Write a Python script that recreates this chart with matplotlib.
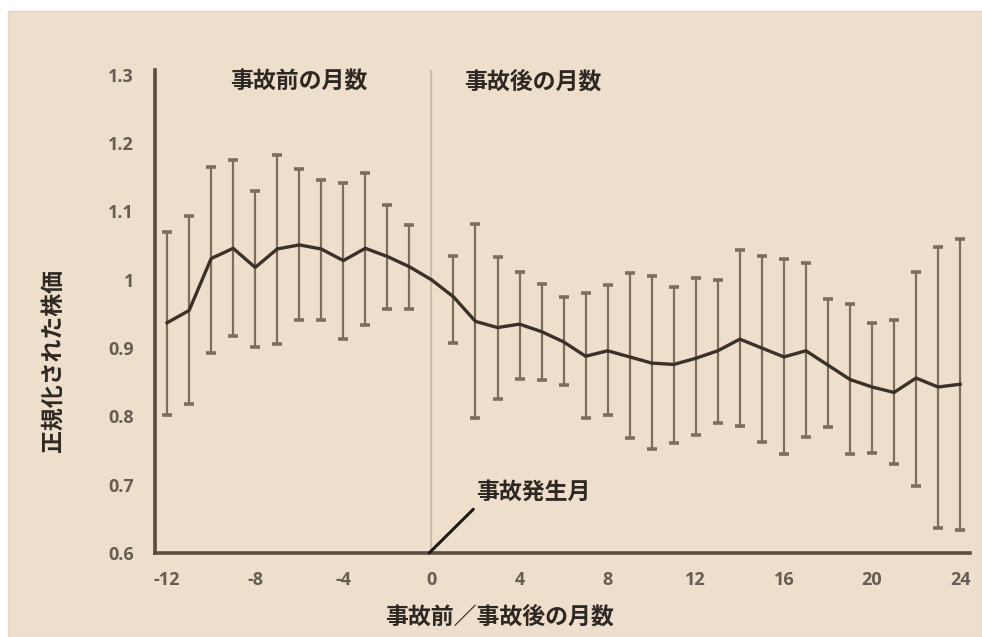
import matplotlib
matplotlib.use("Agg")
import matplotlib.pyplot as plt
from matplotlib.patches import Rectangle

# months relative to the accident
months = list(range(-12, 25))
price = [0.937, 0.955, 1.031, 1.046, 1.018, 1.045, 1.051, 1.045, 1.028, 1.046, 1.034, 1.019,
         1.000,
         0.975, 0.939, 0.930, 0.935, 0.924, 0.909, 0.888, 0.896, 0.887, 0.878, 0.876, 0.885,
         0.896, 0.913, 0.900, 0.887, 0.896, 0.875, 0.854, 0.843, 0.835, 0.856, 0.843, 0.847]
upper = [1.070, 1.093, 1.165, 1.175, 1.130, 1.182, 1.162, 1.146, 1.142, 1.156, 1.109, 1.080,
         None,
         1.035, 1.081, 1.033, 1.012, 0.994, 0.974, 0.981, 0.992, 1.010, 1.005, 0.990, 1.002,
         1.000, 1.043, 1.035, 1.030, 1.024, 0.972, 0.964, 0.937, 0.941, 1.011, 1.048, 1.060]
lower = [0.802, 0.818, 0.893, 0.917, 0.901, 0.906, 0.941, 0.941, 0.913, 0.934, 0.957, 0.957,
         None,
         0.908, 0.798, 0.826, 0.855, 0.853, 0.846, 0.797, 0.802, 0.768, 0.752, 0.761, 0.773,
         0.791, 0.786, 0.763, 0.745, 0.770, 0.784, 0.745, 0.747, 0.730, 0.698, 0.636, 0.633]

xticks = [-12, -8, -4, 0, 4, 8, 12, 16, 20, 24]
yticks = [0.6, 0.7, 0.8, 0.9, 1.0, 1.1, 1.2, 1.3]
ytick_labels = ["0.6", "0.7", "0.8", "0.9", "1", "1.1", "1.2", "1.3"]

BG = "#eedfcc"
DARK = "#3b3129"
BAR = "#7d6d5c"
TICK = "#665d53"
TXT = "#2e2822"
JP = ["Noto Sans CJK JP", "DejaVu Sans"]
JP_SIZE = 16.5

fig = plt.figure(figsize=(9.82, 6.37), dpi=100, facecolor="white")
fig.patches.append(Rectangle((8 / 982, 0), 1 - 8 / 982, 1 - 11 / 637,
                             transform=fig.transFigure, facecolor=BG,
                             edgecolor="#e2d6c6", linewidth=1, zorder=-5))
ax = fig.add_axes([0.1578, 0.1319, 0.9878 - 0.1578, 0.8901 - 0.1319])
ax.patch.set_alpha(0)

# error bars (month 0 has none)
ex = [m for m, u in zip(months, upper) if u is not None]
ey = [p for p, u in zip(price, upper) if u is not None]
elo = [p - l for p, l in zip(price, lower) if l is not None]
ehi = [u - p for p, u in zip(price, upper) if u is not None]
ax.errorbar(ex, ey, yerr=[elo, ehi], fmt="none", ecolor=BAR, elinewidth=1.6,
            capsize=3.6, capthick=2.6, zorder=2)
ax.plot(months, price, color=DARK, linewidth=2.4, zorder=3)

ax.axvline(0, color="#cbbba7", linewidth=1.5, zorder=1)

ax.set_xlim(-12.55, 24.45)
ax.set_ylim(0.6, 1.307)
ax.set_xticks(xticks)
ax.set_xticklabels([str(t) for t in xticks])
ax.set_yticks(yticks)
ax.set_yticklabels(ytick_labels)
ax.tick_params(length=0, labelsize=13, colors=TICK)
ax.tick_params(axis="x", pad=13)
ax.tick_params(axis="y", pad=15)
for lbl in ax.get_xticklabels() + ax.get_yticklabels():
    lbl.set_fontfamily(["Open Sans", "DejaVu Sans"])
    lbl.set_fontweight("bold")

for side in ["top", "right"]:
    ax.spines[side].set_visible(False)
for side in ["left", "bottom"]:
    ax.spines[side].set_color("#5b4c3e")
    ax.spines[side].set_linewidth(2.6)

# axis titles sit off-centre in the original
fig.text(500 / 982, 1 - 617 / 637, "事故前／事故後の月数", family=JP, fontsize=JP_SIZE,
         fontweight="bold", color=TXT, ha="center", va="center")
fig.text(53 / 982, 1 - 360 / 637, "正規化された株価", family=JP, fontsize=JP_SIZE,
         fontweight="bold", color=TXT, rotation=90, ha="center", va="center")

ax.text(-6.0, 1.289, "事故前の月数", family=JP, fontsize=JP_SIZE, fontweight="bold",
        color=TXT, va="center", ha="center")
ax.text(4.6, 1.289, "事故後の月数", family=JP, fontsize=JP_SIZE, fontweight="bold",
        color=TXT, va="center", ha="center")

# pointer to the accident month
ax.annotate("", xy=(-0.1, 0.6), xytext=(1.9, 0.664),
            arrowprops=dict(arrowstyle="-", color="#1e1a16", linewidth=2.2,
                            shrinkA=0, shrinkB=0))
ax.text(2.05, 0.689, "事故発生月", family=JP, fontsize=JP_SIZE, fontweight="bold",
        color=TXT, va="center", ha="left")

fig.savefig("out.png", dpi=100, facecolor="white")
